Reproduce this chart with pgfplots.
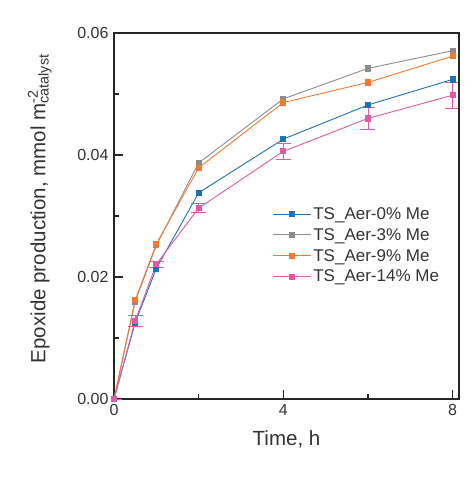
\documentclass[border=0pt]{standalone}
\usepackage{pgfplots}
\pgfplotsset{compat=1.18}
\usepackage{fontspec}
\setmainfont{Liberation Sans}
\definecolor{cblue}{HTML}{2070B8}
\definecolor{cgray}{HTML}{8C8C8C}
\definecolor{corange}{HTML}{F07A30}
\definecolor{cpink}{HTML}{DE5AA2}
\begin{document}
\begin{tikzpicture}
\begin{axis}[
  scale only axis,
  width=345pt, height=366pt,
  xmin=0, xmax=8.15, ymin=0, ymax=0.06,
  scaled y ticks=false,
  axis x line*=bottom, axis y line*=left,
  axis line style={line width=2pt, black!85},
  major tick style={line width=1.6pt, black!85},
  major tick length=9pt,
  tick align=inside,
  xtick={0,4,8},
  ytick={0,0.02,0.04,0.06},
  yticklabels={0.00,0.02,0.04,0.06},
  extra x ticks={2,6}, extra x tick labels={},
  extra y ticks={0.01,0.03,0.05}, extra y tick labels={},
  extra tick style={major tick length=5pt, tick align=inside},
  /pgf/number format/assume math mode=true,
  tick label style={font=\fontsize{16}{19}\selectfont, text=black!80},
  xticklabel style={yshift=-2pt},
  yticklabel style={xshift=-2pt},
  xlabel={Time, h},
  ylabel={Epoxide production, mmol m\rlap{\textsuperscript{-2}}\textsubscript{catalyst}},
  every axis x label/.style={at={(axis description cs:0.5,-0.11)}, anchor=center,
    font=\fontsize{20.5}{24}\selectfont, text=black!80},
  every axis y label/.style={at={(axis description cs:-0.215,0.52)}, rotate=90, anchor=center,
    font=\fontsize{20.5}{24}\selectfont, text=black!80},
  legend style={at={(0.45,0.535)}, anchor=north west, draw=none, fill=none,
    font=\fontsize{17}{20}\selectfont, text=black!80, row sep=3.5pt,
    cells={anchor=west}},
  legend image code/.code={
    \draw[#1] (0pt,0pt) -- (38pt,0pt);
    \draw[#1, only marks] plot coordinates {(19pt,0pt)};
  },
  every axis plot/.append style={line width=0.9pt, mark=square*, mark size=2.6pt},
  after end axis/.code={
    \draw[line width=2pt, black!85, line cap=rect] (rel axis cs:0,1) -- (rel axis cs:1,1) -- (rel axis cs:1,0);
  },
]
\addplot[cblue, mark options={fill=cblue}] coordinates {
 (0,0) (0.5,0.0125) (1,0.0214) (2,0.0338) (4,0.0426) (6,0.0482) (8,0.0524)};
\addlegendentry{TS\_Aer-0\% Me}
\addplot[cgray, mark options={fill=cgray}] coordinates {
 (0,0) (0.5,0.0160) (1,0.0252) (2,0.0387) (4,0.0492) (6,0.0542) (8,0.0571)};
\addlegendentry{TS\_Aer-3\% Me}
\addplot[corange, mark options={fill=corange}] coordinates {
 (0,0) (0.5,0.0162) (1,0.0254) (2,0.0379) (4,0.0486) (6,0.0519) (8,0.0562)};
\addlegendentry{TS\_Aer-9\% Me}
\addplot[cpink, mark options={fill=cpink},
  error bars/.cd, y dir=both, y explicit,
  error bar style={line width=0.9pt},
  error mark options={rotate=90, mark size=7.5pt, line width=0.9pt}]
 coordinates {
 (0,0) +- (0,0)
 (0.5,0.0128) +- (0,0.0009)
 (1,0.0221) +- (0,0.0005)
 (2,0.0313) +- (0,0.0007)
 (4,0.0406) +- (0,0.0013)
 (6,0.0460) +- (0,0.0018)
 (8,0.0498) +- (0,0.0021)};
\addlegendentry{TS\_Aer-14\% Me}
\end{axis}
\path ([shift={(-114pt,-79pt)}]current axis.south west) rectangle ([shift={(14pt,33pt)}]current axis.north east);
\end{tikzpicture}
\end{document}
